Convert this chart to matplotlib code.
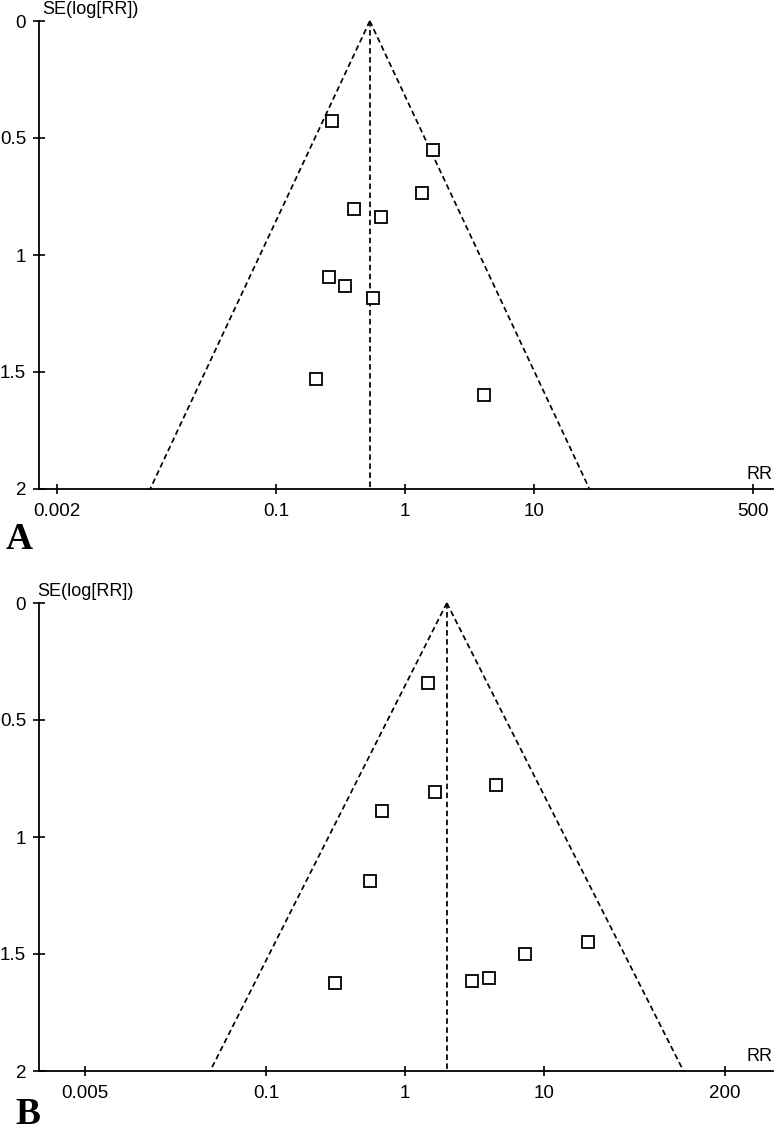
import numpy as np
import matplotlib.pyplot as plt

plt.rcParams['font.family'] = ['Liberation Sans', 'DejaVu Sans']

# panel A: risk ratios and their standard errors
rr_a = [0.270, 1.64, 1.35, 0.403, 0.648, 0.258, 0.343, 0.565, 0.204, 4.1]
se_a = [0.427, 0.552, 0.735, 0.804, 0.838, 1.095, 1.134, 1.185, 1.529, 1.597]
pooled_a = 0.535
ticks_a = [0.002, 0.1, 1, 10, 500]
ticklabels_a = ['0.002', '0.1', '1', '10', '500']

# panel B
rr_b = [1.47, 4.52, 1.64, 0.679, 0.557, 20.6, 7.35, 4.03, 3.03, 0.316]
se_b = [0.343, 0.778, 0.806, 0.891, 1.188, 1.450, 1.501, 1.604, 1.615, 1.625]
pooled_b = 2.0
ticks_b = [0.005, 0.1, 1, 10, 200]
ticklabels_b = ['0.005', '0.1', '1', '10', '200']

se_ticks = [0, 0.5, 1, 1.5, 2]
se_ticklabels = ['0', '0.5', '1', '1.5', '2']

W, H = 774, 1131
fig = plt.figure(figsize=(W / 100, H / 100), dpi=100)


def px_axes(left, top, right, bottom):
    return fig.add_axes([left / W, 1 - bottom / H, (right - left) / W, (bottom - top) / H])


def funnel(ax, rr, se, pooled, ticks, ticklabels, xlim):
    dash = (0, (3.2, 2.0))
    se_line = np.array([0.0, 2.0])
    half = 1.96 * se_line / np.log(10)
    ax.plot(pooled * 10 ** (-half), se_line, color='black', lw=1.25, ls=dash, clip_on=False)
    ax.plot(pooled * 10 ** half, se_line, color='black', lw=1.25, ls=dash, clip_on=False)
    ax.plot([pooled, pooled], [0, 2], color='black', lw=1.25, ls=dash, clip_on=False)
    ax.plot(rr, se, ls='none', marker='s', ms=8.5, mfc='white', mec='black', mew=1.3,
            clip_on=False, zorder=5)

    ax.set_xscale('log')
    ax.set_xlim(*xlim)
    ax.set_ylim(2, 0)
    ax.set_xticks(ticks)
    ax.set_xticklabels(ticklabels)
    ax.xaxis.set_minor_locator(plt.NullLocator())
    ax.set_yticks(se_ticks)
    ax.set_yticklabels(se_ticklabels)
    for side in ['top', 'right']:
        ax.spines[side].set_visible(False)
    for side in ['left', 'bottom']:
        ax.spines[side].set_linewidth(1.3)
    ax.tick_params(axis='x', direction='inout', length=7.5, width=1.2, labelsize=13.5, pad=6)
    ax.tick_params(axis='y', direction='inout', length=8.5, width=1.2, labelsize=13.5, pad=5)
    ax.text(1.0, 0.012, 'RR', transform=ax.transAxes, ha='right', va='bottom', fontsize=13)


ax_a = px_axes(39, 21, 773, 489)
funnel(ax_a, rr_a, se_a, pooled_a, ticks_a, ticklabels_a, (0.00146, 713))
fig.text(42 / W, 1 - 10 / H, 'SE(log[RR])', ha='left', va='center', fontsize=13)
fig.text(6 / W, 1 - 549 / H, 'A', ha='left', va='baseline', fontsize=27,
         fontweight='bold', family='Liberation Serif')

ax_b = px_axes(39, 603, 773, 1071)
funnel(ax_b, rr_b, se_b, pooled_b, ticks_b, ticklabels_b, (0.00233, 444))
fig.text(37 / W, 1 - 591 / H, 'SE(log[RR])', ha='left', va='center', fontsize=13)
fig.text(15 / W, 1 - 1124 / H, 'B', ha='left', va='baseline', fontsize=27,
         fontweight='bold', family='Liberation Serif')

fig.savefig('out.png', dpi=100)
